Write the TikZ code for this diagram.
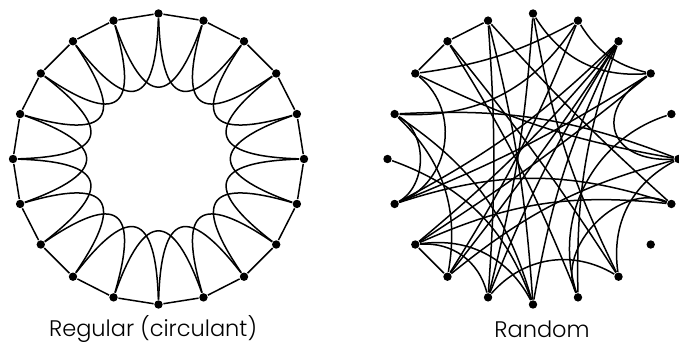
\documentclass[tikz,border=0pt]{standalone}
\usepackage{fontspec}
\setmainfont{Poppins Light}
\usetikzlibrary{calc}
\begin{document}
\begin{tikzpicture}[x=1pt,y=1pt,line width=1.5pt,
  dot/.style={circle,fill=black,inner sep=0pt,minimum size=8.4pt},
  lab/.style={font=\fontsize{22.5}{25}\selectfont}]
\useasboundingbox (0,0) rectangle (679,344);
\coordinate (L) at (158.5,185);
\coordinate (R) at (533,185);
% ---------- regular (circulant) ----------
\foreach \k in {0,...,19}{
  \pgfmathsetmacro\a{18*\k}
  \node[dot] (c\k) at ($(L)+(\a:145.5)$) {};
}
\foreach \k in {0,...,19}{
  \pgfmathtruncatemacro\n{mod(\k+1,20)}
  \pgfmathtruncatemacro\m{mod(\k+2,20)}
  \pgfmathsetmacro\pa{18*\k+3}
  \pgfmathsetmacro\pb{18*\k+33}
  \draw (c\k) -- (c\n);
  \draw (c\k) .. controls ($(L)+(\pa:53)$) and ($(L)+(\pb:53)$) .. (c\m);
}
% ---------- random ----------
\foreach \a in {0,18,...,342}{
  \node[dot] (r\a) at ($(R)+(\a:145.5)$) {};
}
\draw (r108) -- (r126);
\draw (r126) -- (r144);
\draw (r216) -- (r234);
\draw (r108) to[bend left=4] (r252);
\draw (r108) to[bend left=5] (r270);
\draw (r342) to[bend left=3] (r108);
\draw (r36) to[bend left=31] (r90);
\draw (r90) to[bend left=5] (r252);
\draw (r306) to[bend left=8] (r90);
\draw (r36) to[bend left=22] (r72);
\draw (r72) to[bend left=10] (r144);
\draw (r72) to[bend left=30] (r162);
\draw (r72) to[bend left=5] (r234);
\draw (r54) to[bend left=8] (r198);
\draw (r54) to[bend left=5] (r216);
\draw (r54) to[bend left=2] (r234);
\draw (r252) to[bend left=5] (r54);
\draw (r270) to[bend left=8] (r54);
\draw (r288) to[bend left=10] (r54);
\draw (r36) to[bend left=3] (r216);
\draw (r36) to[bend left=5] (r198);
\draw (r0) to[bend left=75,looseness=1.9] (r36);
\draw (r288) to[bend left=45] (r18);
\draw (r0) to[bend right=12] (r162);
\draw (r0) to[bend left=8] (r144);
\draw (r234) to[bend left=12] (r0);
\draw (r306) to[bend left=35] (r0);
\draw (r198) to[bend left=18] (r342);
\draw (r216) to[bend left=15] (r342);
\draw (r288) to[bend left=70] (r342);
\draw (r252) to[bend left=40] (r306);
\draw (r216) to[bend left=40] (r252);
\draw (r216) to[bend left=35] (r270);
\draw (r180) to[bend left=25] (r270);
\draw (r162) to[bend left=60] (r198);
\draw (r144) to[bend left=60,looseness=1.1] (r198);
\draw (r162) to[bend left=28] (r234);
\draw (r162) to[bend left=20] (r270);
\draw (r126) to[bend left=5] (r288);
\draw (r126) to[bend left=3] (r306);
% ---------- labels ----------
\node[lab] (lreg) at (153,15) {Regular (circulant)};
\node[lab] (lran) at (542,15) {Random};
\end{tikzpicture}
\end{document}
